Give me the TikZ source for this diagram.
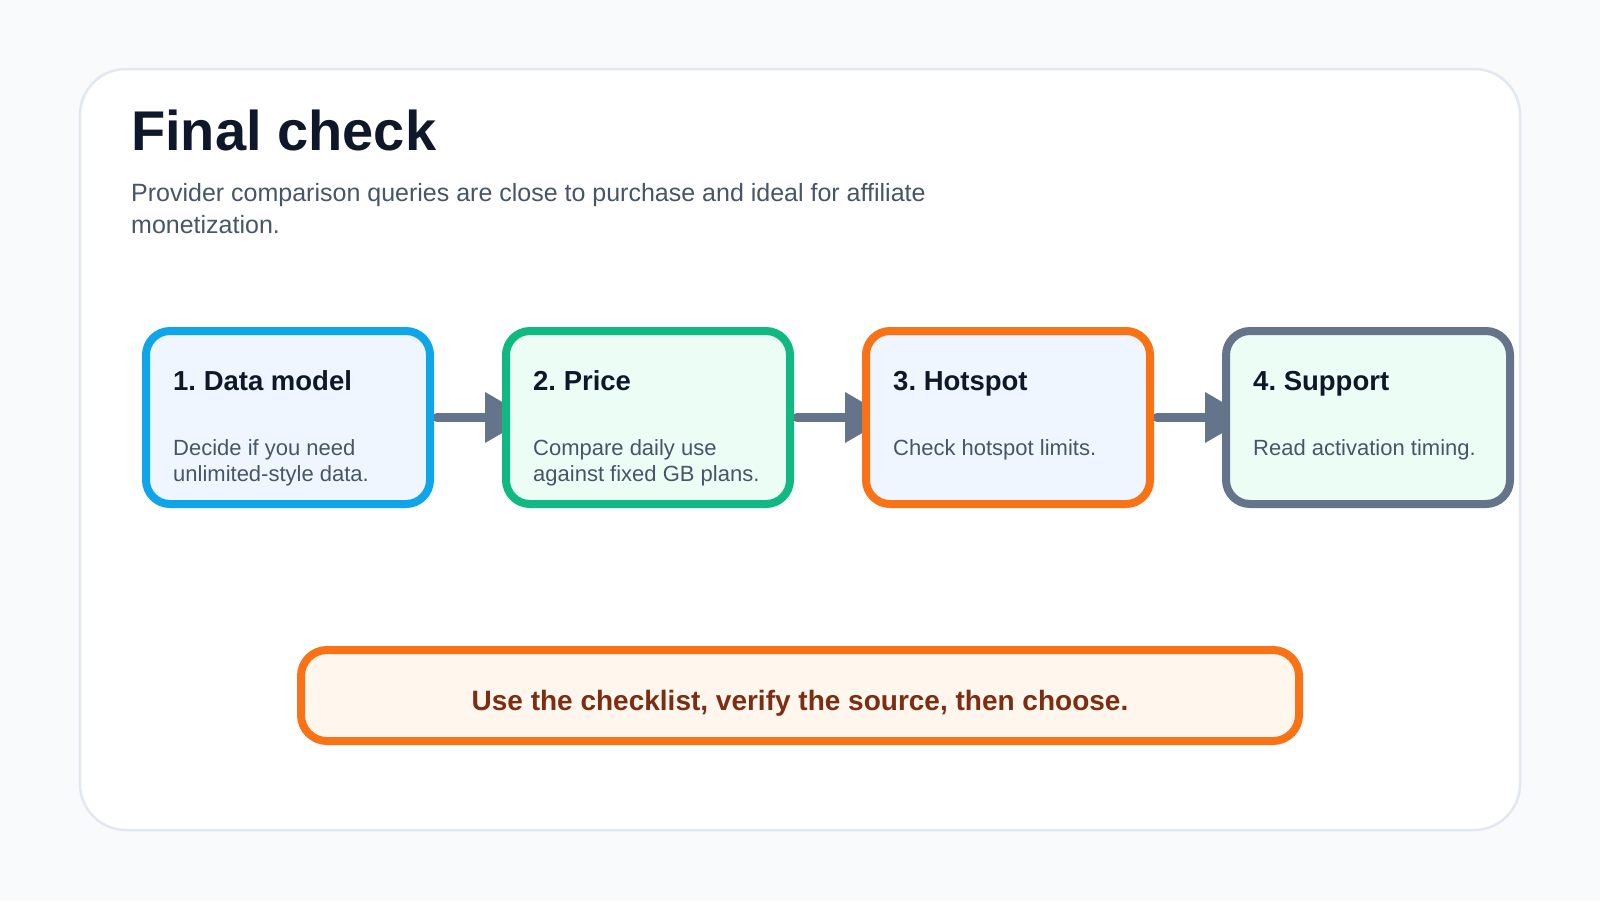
\documentclass[tikz,border=0pt]{standalone}
\usepackage{fontspec}
\setmainfont{Liberation Sans}
\usetikzlibrary{arrows.meta}
\frenchspacing
\definecolor{bgc}{HTML}{F8FAFC}
\definecolor{cardline}{HTML}{E2E8F0}
\definecolor{inkc}{HTML}{0F172A}
\definecolor{subc}{HTML}{475569}
\definecolor{blueS}{HTML}{0EA5E9}
\definecolor{blueF}{HTML}{EFF6FF}
\definecolor{greenS}{HTML}{10B981}
\definecolor{greenF}{HTML}{ECFDF5}
\definecolor{orangeS}{HTML}{F97316}
\definecolor{slateS}{HTML}{64748B}
\definecolor{bannerF}{HTML}{FFF7ED}
\definecolor{bannerT}{HTML}{7C2D12}
\pgfdeclarelayer{bg}
\pgfdeclarelayer{mid}
\pgfsetlayers{bg,mid,main}
\tikzset{
  stepbox/.style={draw, line width=8pt, rounded corners=24pt, minimum width=284pt, minimum height=173pt, inner sep=0pt},
  steptitle/.style={anchor=base west, inner sep=0pt, text=inkc, font=\fontsize{27.5}{33}\selectfont\bfseries\frenchspacing},
  stepbody/.style={anchor=base west, inner sep=0pt, text=subc, align=left, font=\fontsize{22}{26.7}\selectfont\frenchspacing},
  flow/.style={draw=slateS, line width=9.5pt, line cap=round, -{Triangle[length=44pt,width=51pt,line width=0pt]}},
}
\begin{document}
\begin{tikzpicture}[x=1pt,y=-1pt]
\useasboundingbox (0,0) rectangle (1600,900);
\begin{pgfonlayer}{bg}
\fill[bgc] (0,0) rectangle (1600,900);
\node[draw=cardline, fill=white, line width=2.5pt, rounded corners=46pt, minimum width=1440pt, minimum height=761pt, inner sep=0pt] (card) at (800,449.5) {};
\end{pgfonlayer}
\node[anchor=base west, inner sep=0pt, text=inkc, font=\fontsize{56}{64}\selectfont\bfseries] (title) at (131,150) {Final check};
% multi-line nodes: base anchor is the baseline of the last line
\node[anchor=base west, inner sep=0pt, text=subc, align=left, font=\fontsize{25}{31.6}\selectfont\frenchspacing] (subtitle) at (131,233.3) {Provider comparison queries are close to purchase and ideal for affiliate\\monetization.};
\node[stepbox, draw=blueS, fill=blueF] (b1) at (288,417.5) {};
\node[stepbox, draw=greenS, fill=greenF] (b2) at (648,417.5) {};
\node[stepbox, draw=orangeS, fill=blueF] (b3) at (1008,417.5) {};
\node[stepbox, draw=slateS, fill=greenF] (b4) at (1368,417.5) {};
\node[steptitle] (t1) at (173,390) {1. Data model};
\node[stepbody] (d1) at (173,481.7) {Decide if you need\\unlimited-style data.};
\node[steptitle] (t2) at (533,390) {2. Price};
\node[stepbody] (d2) at (533,481.7) {Compare daily use\\against fixed GB plans.};
\node[steptitle] (t3) at (893,390) {3. Hotspot};
\node[stepbody] (d3) at (893,455) {Check hotspot limits.};
\node[steptitle] (t4) at (1253,390) {4. Support};
\node[stepbody] (d4) at (1253,455) {Read activation timing.};
\begin{pgfonlayer}{mid}
\draw[flow] ([xshift=3pt]b1.east) -- ([xshift=27pt]b2.west);
\draw[flow] ([xshift=3pt]b2.east) -- ([xshift=27pt]b3.west);
\draw[flow] ([xshift=3pt]b3.east) -- ([xshift=27pt]b4.west);
\end{pgfonlayer}
\node[draw=orangeS, fill=bannerF, line width=8pt, rounded corners=26pt, minimum width=998pt, minimum height=91pt, inner sep=0pt] (banner) at (800,695.5) {};
\node[anchor=base, inner sep=0pt, text=bannerT, font=\fontsize{28}{33}\selectfont\bfseries] (bannertext) at (800,710) {Use the checklist, verify the source, then choose.};
\end{tikzpicture}
\end{document}
